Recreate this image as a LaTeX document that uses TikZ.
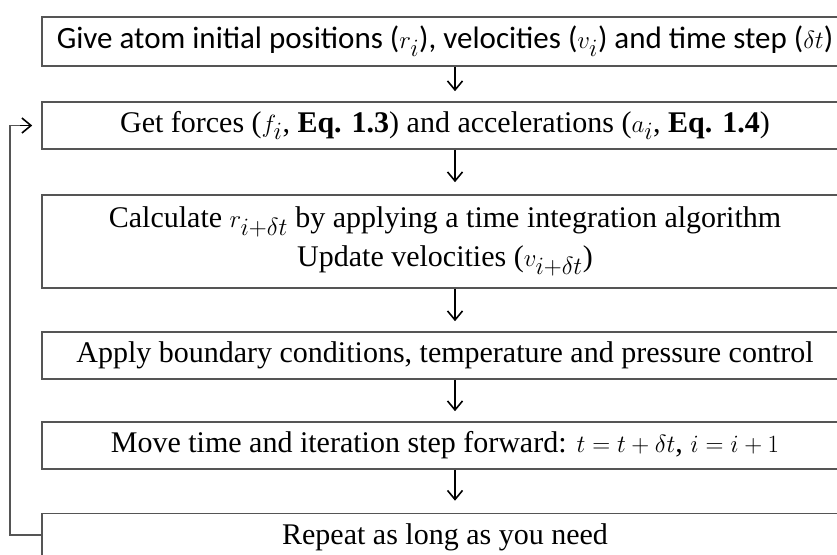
\documentclass[tikz,border=0pt]{standalone}
\usepackage{fontspec}
\setmainfont{Liberation Serif}
\newfontfamily\calib{Carlito}
\DeclareMathSizes{30}{33}{23}{17}
\DeclareMathSizes{31}{34}{24}{18}
\usetikzlibrary{arrows.meta,calc}
\definecolor{boxline}{RGB}{85,85,85}
\begin{document}
\begin{tikzpicture}[x=1pt,y=-1pt,
  flowbox/.style={draw=boxline,line width=1.6pt,rectangle,minimum width=806pt,align=center,inner sep=0pt,font=\fontsize{30}{42}\selectfont},
  arr/.style={draw=black,line width=1.3pt,-{Straight Barb[length=9pt,width=15pt,line width=1.6pt]}},
  fb/.style={draw=boxline,line width=1.6pt}]
\useasboundingbox (0,0) rectangle (837,554);
\clip (0,0) rectangle (837,554);
\node[flowbox,minimum height=49pt,font={\calib\fontsize{31}{36}\selectfont}] (b1) at (445,41.5) {Give atom initial positions ($r_i$), velocities ($v_i$) and time step ($\delta t$)};
\node[flowbox,minimum height=47pt] (b2) at (445,125.5) {Get forces ($f_i$, \textbf{Eq. 1.3}) and accelerations ($a_i$, \textbf{Eq. 1.4})};
\node[flowbox,minimum height=93pt] (b3) at (445,241.5) {\raisebox{-3pt}{Calculate $r_{i+\delta t}$ by applying a time integration algorithm}\\Update velocities ($v_{i+\delta t}$)};
\node[flowbox,minimum height=47pt] (b4) at (445,355.5) {Apply boundary conditions, temperature and pressure control};
\node[flowbox,minimum height=47pt] (b5) at (445,445.5) {Move time and iteration step forward: $t=t+\delta t$, $i=i+1$};
\node[flowbox,minimum height=47pt] (b6) at (445,537) {Repeat as long as you need};
\coordinate (ax) at (455,0);
\draw[arr] (b1.south -| ax) -- ([yshift=10pt]b2.north -| ax);
\draw[arr] (b2.south -| ax) -- ([yshift=12pt]b3.north -| ax);
\draw[arr] (b3.south -| ax) -- ([yshift=10pt]b4.north -| ax);
\draw[arr] (b4.south -| ax) -- ([yshift=10pt]b5.north -| ax);
\draw[arr] (b5.south -| ax) -- ([yshift=12pt]b6.north -| ax);
\coordinate (fx) at (10,0);
\draw[fb] ([yshift=2pt]b6.west) -- ([yshift=2pt]b6.west -| fx) -- (b2.west -| fx) -- ([xshift=-20pt]b2.west);
\draw[arr,draw=black] ([xshift=-20.8pt]b2.west) -- ([xshift=-9pt]b2.west);
\end{tikzpicture}
\end{document}
